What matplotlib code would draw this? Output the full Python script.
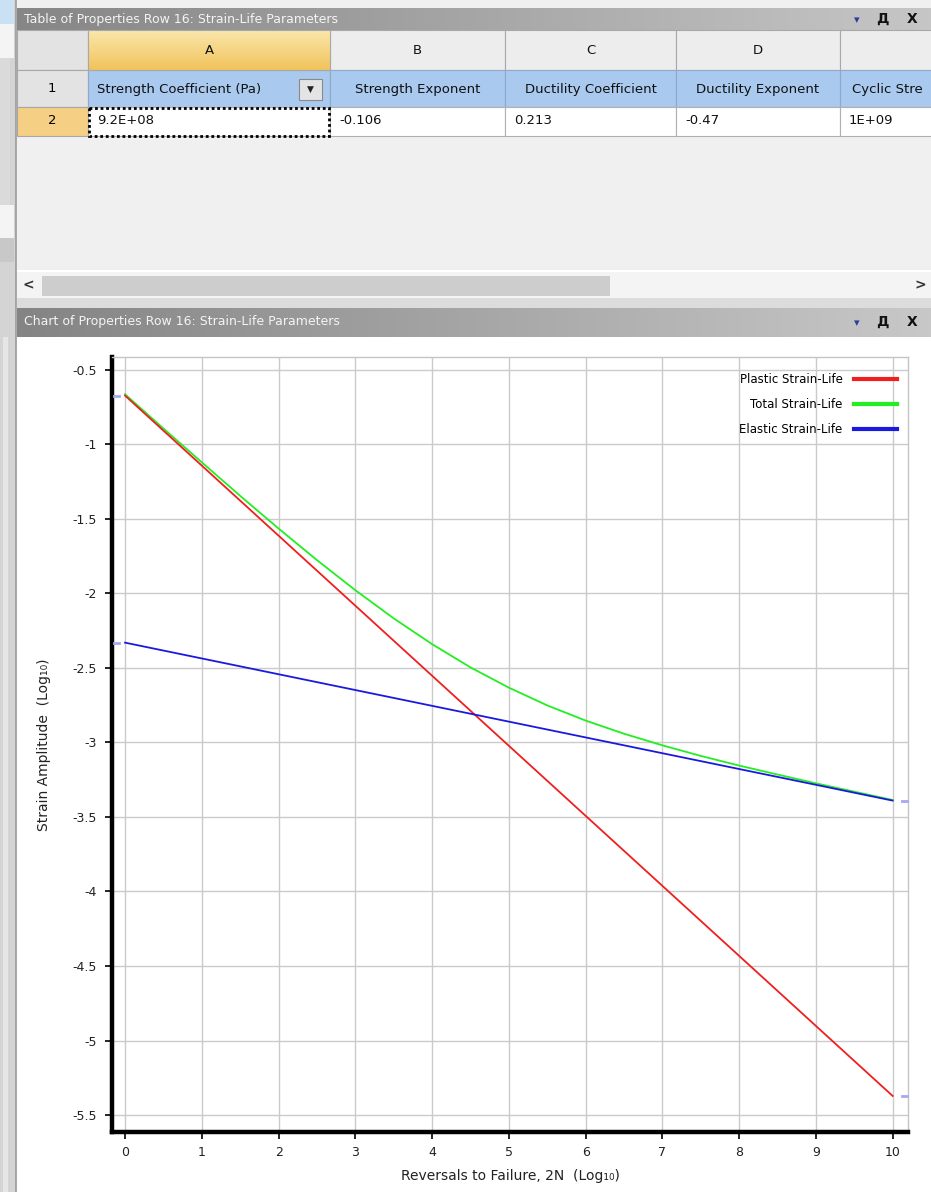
import numpy as np
import matplotlib
matplotlib.use("Agg")
import matplotlib.pyplot as plt
from matplotlib.patches import Rectangle
from matplotlib.transforms import blended_transform_factory

# ---- data ----
col_letters = ["A", "B", "C", "D", ""]
col_headers = ["Strength Coefficient (Pa)", "Strength Exponent", "Ductility Coefficient",
               "Ductility Exponent", "Cyclic Stre"]
col_values = ["9.2E+08", "-0.106", "0.213", "-0.47", "1E+09"]

reversals = [0, 1, 2, 3, 4, 5, 6, 7, 8, 9, 10]
plastic = [-0.672, -1.142, -1.612, -2.082, -2.552, -3.022, -3.492, -3.962, -4.432, -4.902, -5.372]
elastic = [-2.33, -2.436, -2.542, -2.648, -2.754, -2.86, -2.966, -3.072, -3.178, -3.284, -3.39]
reversals_total = [0, 0.5, 1, 1.5, 2, 2.5, 3, 3.5, 4, 4.5, 5, 5.5, 6, 6.5, 7, 7.5, 8, 8.5, 9, 9.5, 10]
total = [-0.663, -0.893, -1.120, -1.345, -1.564, -1.776, -1.978, -2.167, -2.340, -2.496, -2.632,
         -2.751, -2.853, -2.941, -3.019, -3.090, -3.155, -3.215, -3.274, -3.330, -3.386]

W, H = 931, 1192
UI_FONT = ["DejaVu Sans"]

fig = plt.figure(figsize=(W / 100, H / 100), dpi=100)
fig.patch.set_facecolor("white")

# background axes in pixel coordinates for the window chrome
ui = fig.add_axes([0, 0, 1, 1])
ui.set_xlim(0, W)
ui.set_ylim(H, 0)
ui.axis("off")


def box(x0, y0, x1, y1, fc, ec="none", lw=0.8, ls="-", z=1):
    ui.add_patch(Rectangle((x0, y0), x1 - x0, y1 - y0, facecolor=fc, edgecolor=ec,
                           linewidth=lw, linestyle=ls, zorder=z))


def gradient(x0, y0, x1, y1, c_a, c_b, vertical=False, z=1):
    t = np.linspace(0, 1, 256)
    a = np.array(matplotlib.colors.to_rgb(c_a))
    b = np.array(matplotlib.colors.to_rgb(c_b))
    img = a[None, :] * (1 - t[:, None]) + b[None, :] * t[:, None]
    img = img[:, None, :] if vertical else img[None, :, :]
    ui.imshow(img, extent=(x0, x1, y1, y0), aspect="auto", zorder=z, interpolation="bilinear")


# left strip
box(0, 0, 16, H, "#d4d4d4")
box(0, 0, 14, 24, "#c9e1f2")
box(0, 24, 14, 58, "#f4f4f4")
box(0, 58, 10, 205, "#dadada")
box(0, 205, 14, 238, "#f4f4f4")
box(0, 238, 14, 262, "#c8c8c8")
box(3, 337, 8, H, "#e6e6e6")
ui.plot([16, 16], [0, H], color="#9a9a9a", lw=1.2, zorder=2)

# table panel
box(17, 0, W, 8, "#f0f0f0")
gradient(17, 8, W, 30, "#868686", "#c6c6c6")
ui.text(24, 19, "Table of Properties Row 16: Strain-Life Parameters", color="#f4f4f4",
        fontsize=9, va="center", ha="left", family=UI_FONT, zorder=3)
box(17, 30, W, 270, "#f0f0f0")

col_edges = [17, 88, 330, 505, 676, 840, 1000]
row_edges = [30, 70, 107, 136]

# header row with column letters
box(col_edges[0], row_edges[0], col_edges[1], row_edges[1], "#e3e3e3", "#a8a8a8")
for i, letter in enumerate(col_letters):
    x0, x1 = col_edges[i + 1], col_edges[i + 2]
    if i == 0:
        gradient(x0, row_edges[0], x1, row_edges[1], "#fbe7ad", "#f1c35a", vertical=True, z=2)
        box(x0, row_edges[0], x1, row_edges[1], "none", "#a8a8a8", z=3)
    else:
        box(x0, row_edges[0], x1, row_edges[1], "#ededed", "#a8a8a8")
    ui.text((x0 + x1) / 2, 51, letter, fontsize=9.5, ha="center", va="center",
            family=UI_FONT, color="#111111", zorder=4)

# row 1 (property names)
box(col_edges[0], row_edges[1], col_edges[1], row_edges[2], "#e3e3e3", "#a8a8a8")
ui.text(52, 89, "1", fontsize=9.5, ha="center", va="center", family=UI_FONT, zorder=4)
for i, name in enumerate(col_headers):
    x0, x1 = col_edges[i + 1], col_edges[i + 2]
    box(x0, row_edges[1], x1, row_edges[2], "#a9c9ef", "#8fa8c8")
    if i == 0 or i == 4:
        ui.text(x0 + (9 if i == 0 else 12), 89, name, fontsize=9.5, ha="left", va="center",
                family=UI_FONT, color="#111111", zorder=4)
    else:
        ui.text((x0 + x1) / 2, 89, name, fontsize=9.5, ha="center", va="center",
                family=UI_FONT, color="#111111", zorder=4)
# dropdown button in A1
box(299, 79, 322, 100, "#e4e4e4", "#8a8a8a", z=4)
ui.text(310.5, 89.5, "\u25BC", fontsize=6.5, ha="center", va="center", family=UI_FONT,
        color="#222222", zorder=5)

# row 2 (values)
box(col_edges[0], row_edges[2], col_edges[1], row_edges[3], "#f5cf83", "#a8a8a8")
ui.text(52, 121, "2", fontsize=9.5, ha="center", va="center", family=UI_FONT, zorder=4)
for i, val in enumerate(col_values):
    x0, x1 = col_edges[i + 1], col_edges[i + 2]
    box(x0, row_edges[2], x1, row_edges[3], "white", "#b0b0b0")
    ui.text(x0 + 9, 121, val, fontsize=9.5, ha="left", va="center",
            family=UI_FONT, color="#111111", zorder=4)
box(89, 108, 329, 136, "none", "black", lw=2.0, ls=(0, (1, 1)), z=5)

# horizontal scrollbar
box(17, 272, W, 298, "#f4f4f4")
box(42, 276, 610, 296, "#cdcdcd")
ui.text(28, 285, "<", fontsize=10, ha="center", va="center", family=UI_FONT,
        color="#333333", zorder=4, fontweight="bold")
ui.text(920, 285, ">", fontsize=10, ha="center", va="center", family=UI_FONT,
        color="#333333", zorder=4, fontweight="bold")
box(17, 298, W, 308, "#dcdcdc")

# chart panel title
gradient(17, 308, W, 337, "#848484", "#c8c8c8")
ui.text(24, 322, "Chart of Properties Row 16: Strain-Life Parameters", color="#f4f4f4",
        fontsize=9, va="center", ha="left", family=UI_FONT, zorder=3)
for yc in (19, 322):
    ui.text(857, yc + 1, "\u25BE", fontsize=8, ha="center", va="center", color="#2a3f9a",
            family=UI_FONT, zorder=4)
    ui.text(882, yc, "\u0414", fontsize=10, ha="center", va="center",
            color="#111111", family=UI_FONT, zorder=4, fontweight="bold")
    ui.text(912, yc, "X", fontsize=10, ha="center", va="center", color="#111111",
            family=UI_FONT, zorder=4, fontweight="bold")
box(18, 337, W, H, "white")

# ---- chart ----
ax = fig.add_axes([112 / W, 1 - 1132 / H, (908 - 112) / W, (1132 - 357) / H])
ax.set_facecolor("white")
ax.plot(reversals_total, total, color="#22ee22", lw=1.3, label="Total Strain-Life", zorder=3)
ax.plot(reversals, plastic, color="#f01e1e", lw=1.3, label="Plastic Strain-Life", zorder=4)
ax.plot(reversals, elastic, color="#1a1adf", lw=1.3, label="Elastic Strain-Life", zorder=5)

# end markers on the frame
trans = blended_transform_factory(ax.transAxes, ax.transData)
for yv in (plastic[0], elastic[0]):
    ax.plot([0.003, 0.009], [yv, yv], transform=trans, color="#a8a8f0", lw=2.0, zorder=6,
            clip_on=False)
for yv in (elastic[-1], plastic[-1]):
    ax.plot([0.992, 0.999], [yv, yv], transform=trans, color="#a8a8f0", lw=2.0, zorder=6,
            clip_on=False)

ax.set_xlim(-0.17, 10.2)
ax.set_ylim(-5.614, -0.413)
ax.set_xticks(range(0, 11))
ax.set_yticks([-0.5, -1, -1.5, -2, -2.5, -3, -3.5, -4, -4.5, -5, -5.5])
ax.set_yticklabels(["-0.5", "-1", "-1.5", "-2", "-2.5", "-3", "-3.5", "-4", "-4.5", "-5", "-5.5"])
ax.grid(True, color="#cbcbcb", lw=1.0, zorder=0)
ax.set_axisbelow(True)
for side in ("left", "bottom"):
    ax.spines[side].set_linewidth(3.2)
    ax.spines[side].set_color("black")
for side in ("top", "right"):
    ax.spines[side].set_linewidth(1.0)
    ax.spines[side].set_color("#c4c4c4")
ax.tick_params(axis="both", direction="out", length=5, width=1.2, color="black",
               labelsize=9, labelcolor="#222222", pad=5)
ax.tick_params(axis="y", pad=6)

ax.set_xlabel("Reversals to Failure, 2N  (Log\u2081\u2080)", fontsize=10, color="#222222",
              labelpad=7)
ax.set_ylabel("Strain Amplitude  (Log\u2081\u2080)", fontsize=10, color="#222222", labelpad=15)

handles, labels = ax.get_legend_handles_labels()
order = [1, 0, 2]
leg = ax.legend([handles[i] for i in order], [labels[i] for i in order], loc="upper right",
                frameon=False, markerfirst=False, fontsize=8.5, handlelength=3.6,
                handletextpad=1.0, labelspacing=1.02, borderaxespad=0.0,
                bbox_to_anchor=(0.992, 0.985))
for line in leg.get_lines():
    line.set_linewidth(3.0)

fig.savefig("out.png", dpi=100, facecolor=fig.get_facecolor())
